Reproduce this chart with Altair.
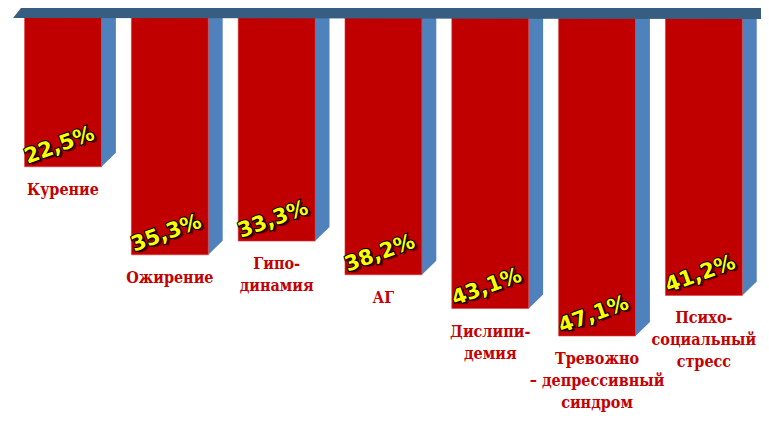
import altair as alt
import pandas as pd

# ---- data ----
categories = ["Курение", "Ожирение", "Гиподинамия", "АГ", "Дислипидемия",
              "Тревожно-депрессивный синдром", "Психосоциальный стресс"]
category_labels = ["Курение", "Ожирение", "Гипо-\nдинамия", "АГ", "Дислипи-\nдемия",
                   "Тревожно\n– депрессивный\nсиндром", "Психо-\nсоциальный\nстресс"]
values = [22.5, 35.3, 33.3, 38.2, 43.1, 47.1, 41.2]
value_labels = ["22,5%", "35,3%", "33,3%", "38,2%", "43,1%", "47,1%", "41,2%"]

# ---- layout / style ----
W, H = 753, 409
X_DOMAIN = [-0.515, 6.535]
Y_DOMAIN = [-0.58, 58.87]
PX_PER_Y = H / (Y_DOMAIN[1] - Y_DOMAIN[0])
HALF = 0.36          # half width of front face (category units)
SIDE = 0.135         # side face width (category units)
SIDE_RISE = 14 / PX_PER_Y

FRONT = "#C00000"
SIDE_C = "#4F81BD"
SLAB = "#375D81"
LABEL_C = "#C40000"

bars = pd.DataFrame({
    "i": list(range(len(categories))),
    "cat": categories,
    "value": values,
    "vlabel": value_labels,
    "clabel": category_labels,
})
bars["x0"] = bars["i"] - HALF
bars["x1"] = bars["i"] + HALF
bars["top"] = 0.0

side_rows = []
for i, v in zip(bars["i"], values):
    side_rows.append({"i": i, "x": i + HALF, "y": 0.0, "y2": v})
    side_rows.append({"i": i, "x": i + HALF + SIDE, "y": 0.0, "y2": v - SIDE_RISE})
side = pd.DataFrame(side_rows)

slab = pd.DataFrame({
    "x": [-0.468, -0.356, 6.58, 6.60],
    "y": [0.87, -1.31, -1.02, -1.02],
    "y2": [0.87, 0.87, 1.02, 1.02],
})

xs = alt.Scale(domain=X_DOMAIN, nice=False, zero=False)
ys = alt.Scale(domain=Y_DOMAIN, range=[0, H], nice=False, zero=False)

side_layer = alt.Chart(side).mark_area(color=SIDE_C, opacity=1).encode(
    x=alt.X("x:Q", scale=xs, axis=None),
    y=alt.Y("y:Q", scale=ys, axis=None),
    y2="y2:Q",
    detail="i:N",
)

front_layer = alt.Chart(bars).mark_rect(color=FRONT, stroke="#D84040", strokeWidth=0.6).encode(
    x=alt.X("x0:Q", scale=xs, axis=None),
    x2="x1:Q",
    y=alt.Y("top:Q", scale=ys, axis=None),
    y2="value:Q",
)

slab_layer = alt.Chart(slab).mark_area(color=SLAB, opacity=1).encode(
    x=alt.X("x:Q", scale=xs, axis=None),
    y=alt.Y("y:Q", scale=ys, axis=None),
    y2="y2:Q",
)

VAL_FONT = "DejaVu Sans"


def val_text(color, dx, dy, **kw):
    return alt.Chart(bars).mark_text(
        font=VAL_FONT, fontWeight="bold", fontSize=21, angle=340,
        color=color, align="center", baseline="middle", dx=dx, dy=dy, **kw
    ).encode(
        x=alt.X("i:Q", scale=xs, axis=None),
        y=alt.Y("value:Q", scale=ys, axis=None),
        text="vlabel:N",
    )


shadow_layer = val_text("#000000", 6, -18.5, opacity=0.55)
outline_layer = val_text("#000000", 4, -21, stroke="#000000", strokeWidth=2.2)
value_layer = val_text("#FFFF00", 4, -21)

cat_layer = alt.Chart(bars).mark_text(
    font="DejaVu Serif Condensed, DejaVu Serif", fontWeight="bold",
    fontSize=16, color=LABEL_C,
    lineBreak="\n", lineHeight=22, align="center", baseline="top", dy=15,
).encode(
    x=alt.X("i:Q", scale=xs, axis=None),
    y=alt.Y("value:Q", scale=ys, axis=None),
    text="clabel:N",
)

chart = alt.layer(
    side_layer, front_layer, slab_layer, shadow_layer, outline_layer, value_layer, cat_layer
).properties(
    width=W, height=H, autosize="none", padding=0, background="white",
).configure_view(stroke=None)

chart.save("out.html", embed_options={"renderer": "svg", "actions": False})
